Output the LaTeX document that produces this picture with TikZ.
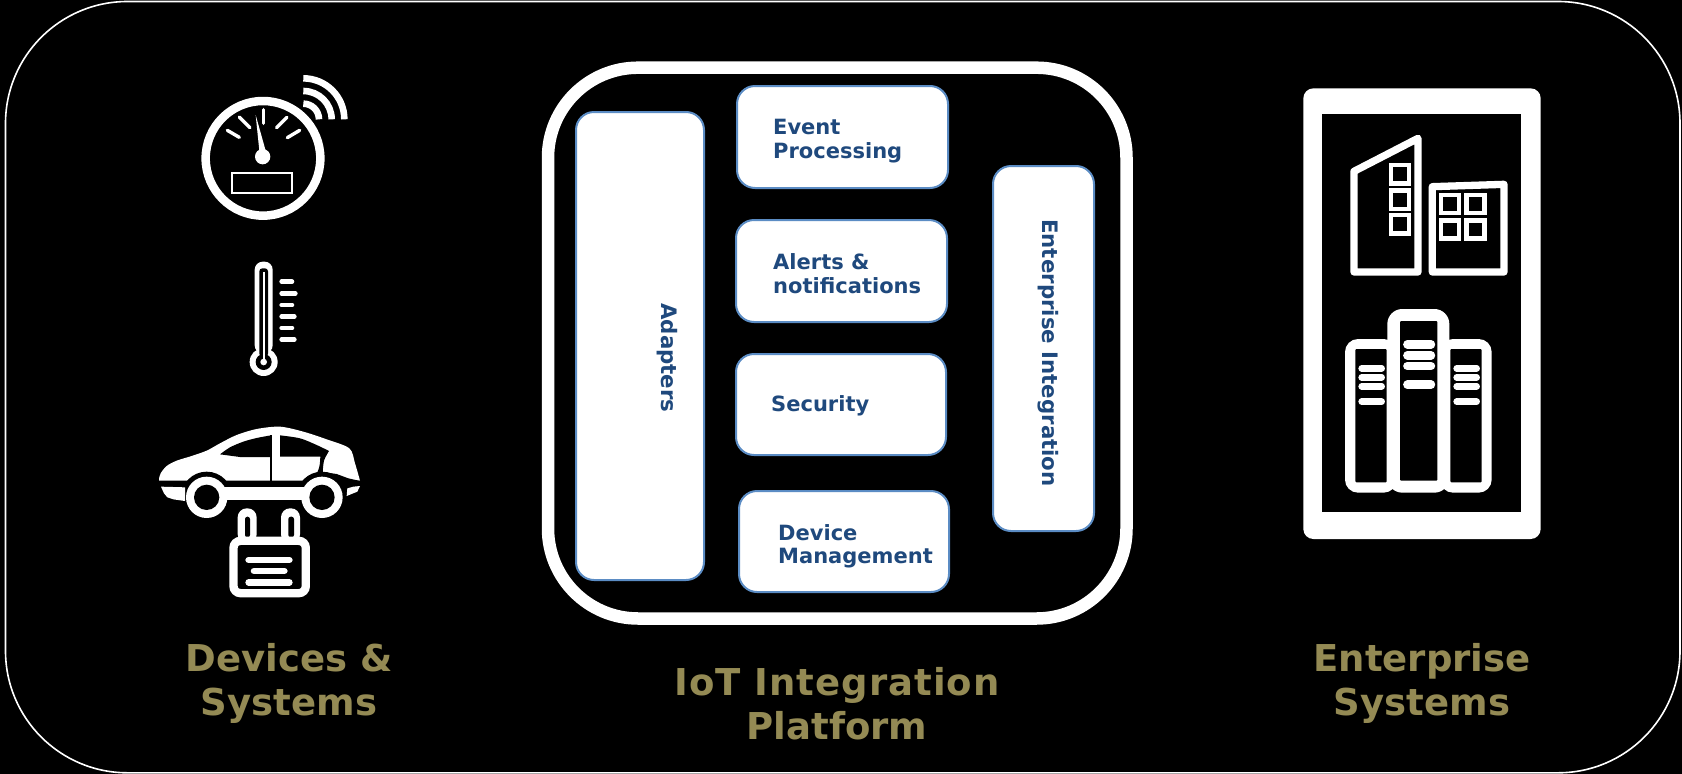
\documentclass[tikz,border=0pt]{standalone}
\usepackage{fontspec}
\setmainfont{DejaVu Sans}
\definecolor{navy}{HTML}{1F497D}
\definecolor{edgeblue}{HTML}{5B8CC4}
\definecolor{olive}{HTML}{948A54}
\newcommand{\pbox}[5]{\node[panelbox,minimum width={(#4-#2)*1pt},minimum height={(#5-#3)*1pt}] (#1) at ({(#2+#4)/2},{(#3+#5)/2}) {};}
\tikzset{
  panelbox/.style={draw=edgeblue,fill=white,line width=2pt,rounded corners=18pt,inner sep=0pt,outer sep=0pt},
  boxtext/.style={text=navy,font=\fontsize{21}{23.5}\selectfont\bfseries,align=left,anchor=west,inner sep=0pt},
  sidetext/.style={text=navy,font=\fontsize{21.3}{23.5}\selectfont\bfseries,rotate=-90,inner sep=0pt},
  title/.style={text=olive,font=\fontsize{37}{44}\selectfont\bfseries,align=center,inner sep=0pt},
  iconA/.style={shift={(140pt,-60pt)},x=.33333pt,y=-.33333pt},
  iconB/.style={shift={(140pt,-410pt)},x=.33333pt,y=-.33333pt},
  iconC/.style={shift={(1290pt,-80pt)},x=.33333pt,y=-.33333pt},
  bar/.style={line cap=round,draw=white}
}
\begin{document}
\begin{tikzpicture}[x=1pt,y=-1pt]
\fill[black] (0,0) rectangle (1682,774);
\useasboundingbox (0,0) rectangle (1682,774);
% outer frame
\draw[white,line width=1.6pt,rounded corners=122pt] (5.5,1.5) rectangle (1680,772.8);
% platform frame
\draw[white,line width=12.5pt,rounded corners=90pt] (548,67.7) rectangle (1126.5,618.5);
% boxes
\pbox{adapters}{576}{112}{704}{580}
\pbox{event}{737}{86}{948}{188}
\pbox{alerts}{736}{220}{947}{322}
\pbox{security}{736}{354}{946}{455}
\pbox{device}{739}{491}{949}{592}
\pbox{integ}{993}{166}{1094}{531}
\node[boxtext] (t1) at (773,141) {Event\\Processing};
\node[boxtext] (t2) at (773,273.5) {Alerts \&\\notifications};
\node[boxtext] (t3) at (771,405.5) {Security};
\node[boxtext] (t4) at (778,546.5) {Device\\Management};
\node[sidetext] (t5) at (667,358) {Adapters};
\node[sidetext] (t6) at (1048,353) {Enterprise Integration};
% titles
\node[title] (d) at (289,683) {Devices \&\\Systems};
\node[title] (p) at (837,704) {{\addfontfeature{LetterSpace=2.7}IoT Integration}\\Platform};
\node[title] (e) at (1422,683) {Enterprise\\Systems};
% gauge and thermometer
\begin{scope}[iconA]
\draw[white,line width=8.5pt] (369,295) circle (172);
\draw[white,line width=2pt] (276,338) rectangle (456,398);
\foreach \a/\b/\c/\d in {262/211/298/232, 298/171/330/203, 371/149/371/190, 441/172/410/203, 479/211/442/233}
  \draw[bar,line width=3.4pt] (\a,\b) -- (\c,\d);
\fill[white] (347,165) -- (358,272) -- (377,272) -- cycle;
\fill[white] (368,290) circle (23);
\foreach \r in {47,85,123}
  \draw[white,line width=6.6pt] (490,178) ++(0,-\r) arc[start angle=-90,end angle=0,radius=\r];
% thermometer
\fill[white,rounded corners=8pt] (344,880) -- (344,605) -- (398,605) -- (398,880) -- cycle;
\fill[white] (371,906) circle (42);
\fill[black,rounded corners=3pt] (358,890) -- (358,625) -- (384,625) -- (384,890) -- cycle;
\fill[black] (371,906) circle (24);
\fill[white] (368,635) rectangle (374,906);
\fill[white] (371,906) circle (10);
\foreach \y/\e in {665/456,700/466,735/456,770/463,804/456,839/463}
  \draw[bar,line width=4.6pt] (425,\y) -- (\e,\y);
\end{scope}
% car and battery
\begin{scope}[iconB]
\fill[white] plot[smooth,tension=.5] coordinates {(57,207)(62,190)(80,168)(110,152)(155,138)(200,122)(240,100)(290,75)(350,57)(420,50)(490,65)(560,88)(628,115)(645,160)(660,212)} -- (57,212) -- cycle;
\fill[black] plot[smooth,tension=.5] coordinates {(240,133)(270,112)(310,95)(350,84)(393,76)} -- (393,141) -- (300,141) -- cycle;
\fill[black] (389,76) rectangle (397,214);
\fill[black] plot[smooth,tension=.5] coordinates {(420,76)(480,85)(530,105)(567,123)} -- plot[smooth,tension=.5] coordinates {(567,123)(552,152)(548,190)} -- (490,214) -- plot[smooth,tension=.5] coordinates {(490,212)(525,197)(538,170)(541,140)} -- (420,140) -- cycle;
\fill[black] (548,186) -- (590,192) -- (625,205) -- (665,214) -- (665,232) -- (548,232) -- cycle;
\fill[black] (50,212) rectangle (665,232);
\fill[black] (200,262) circle (77);
\fill[black] (546,262) circle (77);
\fill[white] (200,232) rectangle (546,271);
\fill[white] (63,230) -- (135,232) -- (135,273) -- (100,268) -- (82,262) -- (72,250) -- cycle;
\fill[white] (622,235) -- (640,230) -- (660,228) -- (652,245) -- (620,258) -- cycle;
\foreach \c in {200,546}{
  \fill[white] (\c,262) circle (62);
  \fill[black] (\c,262) circle (38);
}
% battery
\fill[white,rounded corners=9pt] (293,400) -- (293,295) -- (350,295) -- (350,400) -- cycle;
\fill[white,rounded corners=9pt] (423,400) -- (423,295) -- (480,295) -- (480,400) -- cycle;
\fill[black,rounded corners=2.4pt] (315,382) -- (315,320) -- (330,320) -- (330,382) -- cycle;
\fill[black,rounded corners=2.4pt] (445,382) -- (445,320) -- (462,320) -- (462,382) -- cycle;
\draw[white,line width=8.3pt,rounded corners=7pt,fill=black] (280.5,392.5) rectangle (497.5,549.5);
\draw[bar,line width=6.6pt] (326,450) -- (448,450);
\draw[bar,line width=6.6pt] (342,483) -- (433,483);
\draw[bar,line width=6.6pt] (326,517) -- (448,517);
\end{scope}
% enterprise icon
\begin{scope}[iconC]
\fill[white,rounded corners=10pt] (40,25) rectangle (752,1377);
\fill[black] (97,103) rectangle (693,1297);
\draw[white,line width=7.3pt,line join=round] (192,274) -- (384,175) -- (384,576) -- (192,576) -- cycle;
\foreach \y in {248,325,398}
  \draw[white,line width=4.3pt] (303.5,\y+6.5) rectangle (357.5,\y+62.5);
\draw[white,line width=7.3pt,line join=round] (427,320) -- (642,313) -- (642,576) -- (427,576) -- cycle;
\foreach \xx in {446,522}
  \foreach \y in {338,414}
    \draw[white,line width=4.6pt] (\xx+7,\y+7) rectangle (\xx+61,\y+61);
% servers
\fill[white,rounded corners=13pt] (165,777) rectangle (320,1238);
\fill[white,rounded corners=13pt] (450,777) rectangle (605,1238);
\fill[white,rounded corners=15pt] (292,687) rectangle (478,1238);
\fill[black,rounded corners=1pt] (196,807) rectangle (290,1207);
\fill[black,rounded corners=1pt] (481,807) rectangle (575,1207);
\fill[black,rounded corners=1pt] (330,723) rectangle (442,1202);
\foreach \y in {865,892,919,965}{
  \draw[bar,line width=6.6pt] (215,\y) -- (275,\y);
  \draw[bar,line width=6.6pt] (500,\y) -- (560,\y);
}
\foreach \y in {793,826,858,914}
  \draw[bar,line width=8.4pt] (352,\y) -- (423,\y);
\end{scope}
\end{tikzpicture}
\end{document}
